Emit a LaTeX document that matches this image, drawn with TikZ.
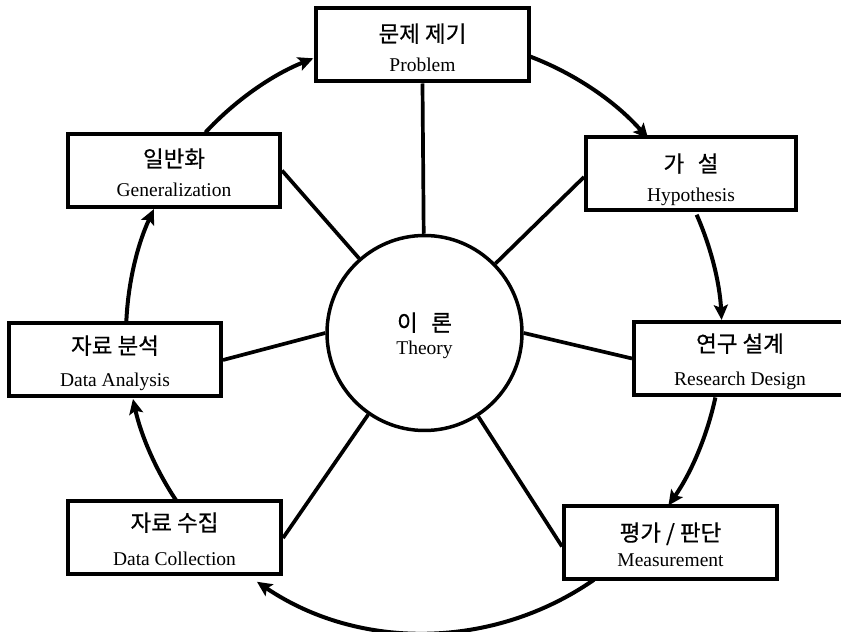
\documentclass[tikz,border=0pt]{standalone}
\usepackage{fontspec}
\setmainfont{Liberation Serif}
\newfontfamily\kr[FakeBold=0.5]{Noto Sans CJK KR}
\usetikzlibrary{arrows.meta}

\tikzset{
  stagebox/.style={draw=black, fill=white, line width=4pt, rectangle,
    minimum width=#1, minimum height=73pt, inner sep=0pt},
  core/.style={draw=black, fill=white, line width=3.5pt, circle,
    minimum size=195pt, inner sep=0pt},
  kortext/.style={font=\kr\fontsize{22.5}{26}\selectfont, anchor=base, inner sep=0pt},
  engtext/.style={font=\fontsize{19.5}{22}\selectfont, anchor=base, inner sep=0pt},
  spoke/.style={draw=black, line width=3.7pt},
  flow/.style={draw=black, line width=4pt,
    -{Stealth[length=15pt, width=14pt, inset=3pt]}}
}

\begin{document}
\begin{tikzpicture}[x=1pt, y=1pt]
  \clip (0,0) rectangle (841,632);

  % centre of the outer cycle
  \coordinate (ring) at (424,297);

  % theory in the middle
  \node[core] (theory) at (424.5,299) {};
  \node[kortext] (theoryk) at (424.5,301) {이\hspace{0.6em}론};
  \node[engtext] (theorye) at (424.5,277) {Theory};

  % the seven stages
  \node[stagebox=213pt] (prob) at (422.5,587) {};
  \node[kortext] (probk) at (422.5,590) {문제 제기};
  \node[engtext] (probe) at (422.5,560) {Problem};

  \node[stagebox=210pt] (hyp) at (691,458) {};
  \node[kortext] (hypk) at (691,460) {가\hspace{0.6em}설};
  \node[engtext] (hype) at (691,430) {Hypothesis};

  \node[stagebox=212pt] (rd) at (740,273.5) {};
  \node[kortext] (rdk) at (740,280) {연구 설계};
  \node[engtext] (rde) at (740,246) {Research Design};

  \node[stagebox=213pt] (meas) at (670.5,89.5) {};
  \node[kortext] (meask) at (670.5,91) {평가 / 판단};
  \node[engtext] (mease) at (670.5,65) {Measurement};

  \node[stagebox=213pt] (dc) at (174.5,94) {};
  \node[kortext] (dck) at (174.5,101) {자료 수집};
  \node[engtext] (dce) at (174.5,66) {Data Collection};

  \node[stagebox=212pt] (da) at (115,272) {};
  \node[kortext] (dak) at (115,278) {자료 분석};
  \node[engtext] (dae) at (115,245) {Data Analysis};

  \node[stagebox=212pt] (gen) at (174,461.5) {};
  \node[kortext] (genk) at (174,465) {일반화};
  \node[engtext] (gene) at (174,435) {Generalization};

  % spokes from the theory to each stage
  \draw[spoke] (theory) -- (prob.south);
  \draw[spoke] (theory) -- ([yshift=-3pt]hyp.west);
  \draw[spoke] (theory.east) -- (rd.west);
  \draw[spoke] (theory) -- ([yshift=-4pt]meas.west);
  \draw[spoke] (theory) -- (dc.east);
  \draw[spoke] (theory.west) -- (da.east);
  \draw[spoke] (theory) -- (gen.east);

  % clockwise cycle of arrows between the stages
  \foreach \a/\b in {137.2/111.8, 69.1/41.2, 23.8/2.9, -12.1/-34.9,
                     -55.2/-124.1, -146.3/-167.6, 177.7/155}
    \draw[flow] ([shift={(\a:298pt)}]ring) arc[start angle=\a, end angle=\b, radius=298pt];
\end{tikzpicture}
\end{document}
